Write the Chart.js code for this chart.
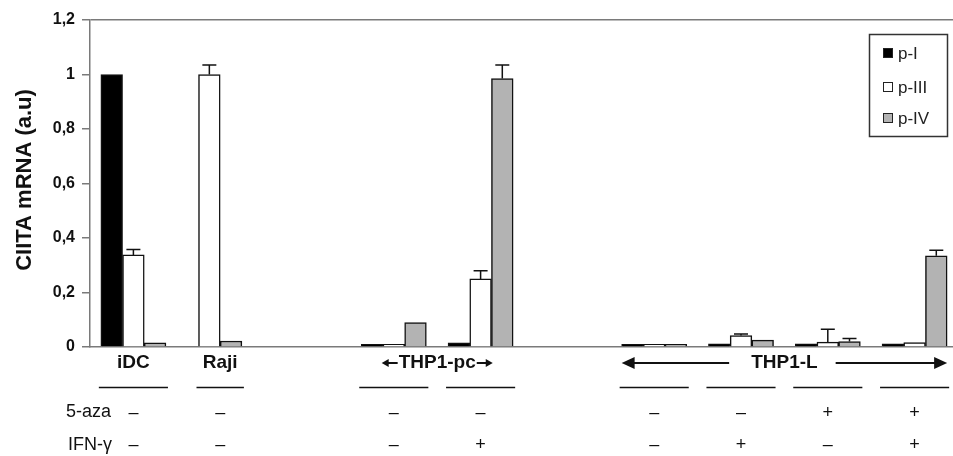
<!DOCTYPE html>
<html lang="en">
<head>
<meta charset="UTF-8" />
<title>CIITA mRNA</title>
<script src="https://cdn.jsdelivr.net/npm/chart.js"></script>
<style>
  html, body { margin: 0; padding: 0; background: #fff; overflow: hidden; }
  #wrap { width: 958px; height: 456px; }
</style>
</head>
<body>
<div id="wrap"><canvas id="chart"></canvas></div>
<script>
// groups along the x axis ("" = empty gap)
const categories = ["iDC", "Raji", "", "THP1-pc", "THP1-pc", "", "THP1-L", "THP1-L", "THP1-L", "THP1-L"];
const seriesNames = ["p-I", "p-III", "p-IV"];

// values
const pI   = [1.0,   null,  null, 0.01, 0.015, null, 0.01, 0.012, 0.012, 0.012];
const pIII = [0.338, 1.0,   null, 0.01, 0.25,  null, 0.01, 0.042, 0.018, 0.016];
const pIV  = [0.015, 0.022, null, 0.09, 0.985, null, 0.01, 0.025, 0.02,  0.335];

// error bars (upper only)
const errI   = [0, 0, 0, 0, 0, 0, 0, 0, 0, 0];
const errIII = [0.02, 0.035, 0, 0, 0.03, 0, 0, 0.006, 0.047, 0];
const errIV  = [0, 0, 0, 0, 0.05, 0, 0, 0, 0.011, 0.02];

// treatment rows under the axis
const azaRow = ["–", "–", "", "–", "–", "", "–", "–", "+", "+"];
const ifnRow = ["–", "–", "", "–", "+", "", "–", "+", "–", "+"];

const yTicks = [0, 0.2, 0.4, 0.6, 0.8, 1, 1.2];
const yTickLabels = ["0", "0,2", "0,4", "0,6", "0,8", "1", "1,2"];

const FONT = "'Liberation Sans', Arial, sans-serif";
const AXIS_GRAY = "#7a7a7a";

function arrowHead(ctx, x, y, dir, len, half) {
  ctx.beginPath();
  ctx.moveTo(x, y);
  ctx.lineTo(x - dir * len, y - half);
  ctx.lineTo(x - dir * len, y + half);
  ctx.closePath();
  ctx.fill();
}

const extrasPlugin = {
  id: "extras",
  afterDatasetsDraw(chart) {
    // error bars
    const ctx = chart.ctx;
    const y = chart.scales.y;
    const errs = [errI, errIII, errIV];
    ctx.save();
    ctx.strokeStyle = "#111";
    ctx.lineWidth = 1.5;
    chart.data.datasets.forEach((ds, di) => {
      const meta = chart.getDatasetMeta(di);
      meta.data.forEach((bar, i) => {
        const e = errs[di][i];
        if (!e || ds.data[i] == null) return;
        const top = y.getPixelForValue(ds.data[i] + e);
        ctx.beginPath();
        ctx.moveTo(bar.x, bar.y);
        ctx.lineTo(bar.x, top);
        ctx.moveTo(bar.x - 7, top);
        ctx.lineTo(bar.x + 7, top);
        ctx.stroke();
      });
    });
    ctx.restore();
  },
  afterDraw(chart) {
    const ctx = chart.ctx;
    const x = chart.scales.x;
    const area = chart.chartArea;

    // bar span of each category
    const spans = categories.map((c, i) => {
      let l = Infinity, r = -Infinity;
      chart.data.datasets.forEach((ds, di) => {
        if (ds.data[i] == null) return;
        const bar = chart.getDatasetMeta(di).data[i];
        l = Math.min(l, bar.x - bar.width / 2);
        r = Math.max(r, bar.x + bar.width / 2);
      });
      return l === Infinity ? null : { l, r };
    });

    ctx.save();
    ctx.fillStyle = "#111";
    ctx.strokeStyle = "#111";

    // group headers
    ctx.font = "bold 19px " + FONT;
    ctx.textAlign = "center";
    ctx.textBaseline = "middle";
    const hy = area.bottom + 16;
    let i = 0;
    while (i < categories.length) {
      const name = categories[i];
      let j = i;
      while (j + 1 < categories.length && categories[j + 1] === name) j++;
      if (name) {
        if (i === j) {
          ctx.fillText(name, x.getPixelForValue(i), hy);
        } else {
          const l = spans[i].l, r = spans[j].r;
          const cx = (l + r) / 2;
          ctx.fillText(name, cx, hy);
          const tw = ctx.measureText(name).width;
          ctx.lineWidth = 2;
          if (j - i > 1) {
            ctx.beginPath();
            ctx.moveTo(l + 10, hy); ctx.lineTo(cx - tw / 2 - 22, hy);
            ctx.moveTo(cx + tw / 2 + 18, hy); ctx.lineTo(r - 10, hy);
            ctx.stroke();
            arrowHead(ctx, l, hy, -1, 13, 6);
            arrowHead(ctx, r, hy, 1, 13, 6);
          } else {
            const a = cx - tw / 2, b = cx + tw / 2;
            ctx.lineWidth = 2;
            ctx.beginPath();
            ctx.moveTo(a - 1, hy); ctx.lineTo(a - 11, hy);
            ctx.moveTo(b + 1, hy); ctx.lineTo(b + 11, hy);
            ctx.stroke();
            arrowHead(ctx, a - 17, hy, -1, 7, 4);
            arrowHead(ctx, b + 17, hy, 1, 7, 4);
          }
        }
      }
      i = j + 1;
    }

    // underlines
    ctx.lineWidth = 1.5;
    spans.forEach((s) => {
      if (!s) return;
      ctx.beginPath();
      ctx.moveTo(s.l - 2, area.bottom + 40.5);
      ctx.lineTo(s.r + 2, area.bottom + 40.5);
      ctx.stroke();
    });

    // treatment rows
    ctx.font = "18px " + FONT;
    ctx.textAlign = "left";
    ctx.fillText("5-aza", 66, 412);
    ctx.fillText("IFN-\u03b3", 68, 445);
    ctx.textAlign = "center";
    categories.forEach((c, k) => {
      const cx = x.getPixelForValue(k);
      if (azaRow[k]) ctx.fillText(azaRow[k], cx, 413);
      if (ifnRow[k]) ctx.fillText(ifnRow[k], cx, 445);
    });

    // y title
    ctx.save();
    ctx.translate(25, 180);
    ctx.rotate(-Math.PI / 2);
    ctx.font = "bold 22px " + FONT;
    ctx.textAlign = "center";
    ctx.textBaseline = "middle";
    ctx.fillText("CIITA mRNA (a.u)", 0, 0);
    ctx.restore();

    // legend box
    const lx = 869.5, ly = 34.5, lw = 78, lh = 102;
    ctx.strokeStyle = "#333";
    ctx.lineWidth = 1.5;
    ctx.strokeRect(lx, ly, lw, lh);
    ctx.font = "17px " + FONT;
    ctx.textAlign = "left";
    const rowsY = [53, 87, 118];
    chart.data.datasets.forEach((ds, di) => {
      const ry = rowsY[di];
      ctx.fillStyle = ds.backgroundColor;
      ctx.fillRect(883.5, ry - 4.5, 9, 9);
      ctx.strokeStyle = "#222";
      ctx.lineWidth = 1;
      ctx.strokeRect(883.5, ry - 4.5, 9, 9);
      ctx.fillStyle = "#222";
      ctx.fillText(ds.label, 898, ry + 1);
    });
    ctx.restore();
  }
};

const seriesData = [pI, pIII, pIV];
const seriesFill = ["#000000", "#ffffff", "#b3b3b3"];

new Chart(document.getElementById("chart"), {
  type: "bar",
  data: {
    labels: categories,
    datasets: seriesNames.map((name, k) => ({
      label: name,
      data: seriesData[k],
      backgroundColor: seriesFill[k],
      borderColor: "#111",
      borderWidth: 1.5,
      barThickness: 21.7,
      skipNull: true
    }))
  },
  options: {
    responsive: true,
    maintainAspectRatio: false,
    animation: false,
    layout: { padding: { top: 20, bottom: 109, left: 0, right: 0 } },
    plugins: { legend: { display: false }, tooltip: { enabled: false } },
    scales: {
      x: {
        ticks: { display: false },
        grid: { display: false },
        border: { display: true, color: AXIS_GRAY, width: 1.5 },
        afterFit: (s) => { s.height = 0; }
      },
      y: {
        min: 0,
        max: 1.2,
        afterBuildTicks: (s) => { s.ticks = yTicks.map((v) => ({ value: v })); },
        ticks: {
          callback: (v, i) => yTickLabels[i],
          font: { family: FONT, size: 16, weight: "bold" },
          color: "#111",
          padding: 7
        },
        grid: {
          color: (c) => (c.tick && Math.abs(c.tick.value - 1.2) < 1e-6 ? AXIS_GRAY : "rgba(0,0,0,0)"),
          tickColor: AXIS_GRAY,
          tickLength: 8,
          lineWidth: 1.5
        },
        border: { display: true, color: AXIS_GRAY, width: 1.5 },
        afterFit: (s) => { s.width = 90; }
      }
    }
  },
  plugins: [extrasPlugin]
});
</script>
</body>
</html>
